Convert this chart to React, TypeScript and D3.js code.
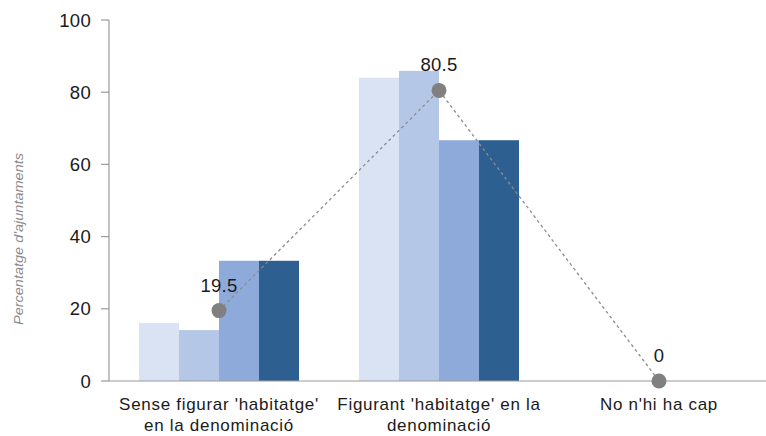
import React from "react";
import * as d3 from "d3";

const categories = [
  ["Sense figurar 'habitatge'", "en la denominació"],
  ["Figurant 'habitatge' en la", "denominació"],
  ["No n'hi ha cap"],
];
const categoryKeys = ["sense", "figurant", "cap"];
const seriesNames = ["Sèrie 1", "Sèrie 2", "Sèrie 3", "Sèrie 4"];
const seriesValues = [
  [16.1, 84.0, 0],
  [14.1, 85.9, 0],
  [33.3, 66.7, 0],
  [33.3, 66.7, 0],
];
const seriesColors = ["#dae3f3", "#b4c7e7", "#8eaadb", "#2e5f91"];
const lineValues = [19.5, 80.5, 0];
const lineLabels = ["19.5", "80.5", "0"];
const yTicks = [0, 20, 40, 60, 80, 100];
const yTitle = "Percentatge d'ajuntaments";

export default function App() {
  const W = 766, H = 436;
  const left = 109, bottom = 381, top = 20, right = 769;
  const y = d3.scaleLinear().domain([0, 100]).range([bottom, top]);
  const x0 = d3
    .scaleBand<string>()
    .domain(categoryKeys)
    .range([left, right])
    .paddingInner(60 / 220)
    .paddingOuter(30 / 220);
  const x1 = d3
    .scaleBand<string>()
    .domain(seriesNames)
    .range([0, x0.bandwidth()]);
  const cx = (k: string) => (x0(k) as number) + x0.bandwidth() / 2;
  const linePts: [number, number][] = categoryKeys.map((k, i) => [cx(k), y(lineValues[i])]);
  const lineGen = d3.line();
  const font = "'Liberation Sans', Arial, sans-serif";

  return (
    <svg
      width={W}
      height={H}
      style={{ position: "absolute", left: 0, top: 0, background: "#fff" }}
      fontFamily={font}
    >
      {/* bars */}
      {seriesNames.map((s, si) =>
        categoryKeys.map((k, ci) => {
          const v = seriesValues[si][ci];
          if (v <= 0) return null;
          return (
            <rect
              key={s + k}
              x={(x0(k) as number) + (x1(s) as number)}
              y={y(v)}
              width={x1.bandwidth()}
              height={bottom - y(v)}
              fill={seriesColors[si]}
            />
          );
        })
      )}
      {/* axes */}
      <line x1={left} x2={left} y1={top} y2={bottom} stroke="#9a9a9a" strokeWidth={1.2} />
      <line x1={left} x2={W} y1={bottom} y2={bottom} stroke="#9a9a9a" strokeWidth={1.2} />
      {yTicks.map((t) => (
        <g key={t}>
          <line x1={left - 8} x2={left} y1={y(t)} y2={y(t)} stroke="#9a9a9a" strokeWidth={1.2} />
          <text x={91} y={y(t)} dy="0.36em" textAnchor="end" fontSize={18.5} letterSpacing={0.3} fill="#1a1a1a">
            {t}
          </text>
        </g>
      ))}
      <text
        transform={`translate(23,239) rotate(-90)`}
        textAnchor="middle"
        fontSize={13}
        fontStyle="italic"
        fill="#8a8a8a"
        textLength={172}
        lengthAdjust="spacingAndGlyphs"
      >
        {yTitle}
      </text>
      {/* x labels */}
      {categoryKeys.map((k, ci) => (
        <text key={k} x={cx(k)} y={410} textAnchor="middle" fontSize={17} letterSpacing={0.7} fill="#1a1a1a">
          {categories[ci].map((ln, li) => (
            <tspan key={li} x={cx(k)} dy={li === 0 ? 0 : 21}>
              {ln}
            </tspan>
          ))}
        </text>
      ))}
      {/* line */}
      <path
        d={lineGen(linePts) || ""}
        fill="none"
        stroke="#8c8c8c"
        strokeWidth={1.3}
        strokeDasharray="3,3"
      />
      {linePts.map((p, i) => (
        <g key={i}>
          <circle cx={p[0]} cy={p[1]} r={7.5} fill="#808080" />
          <text x={p[0]} y={p[1] - 19} textAnchor="middle" fontSize={18.5} letterSpacing={0.3} fill="#1a1a1a">
            {lineLabels[i]}
          </text>
        </g>
      ))}
    </svg>
  );
}
